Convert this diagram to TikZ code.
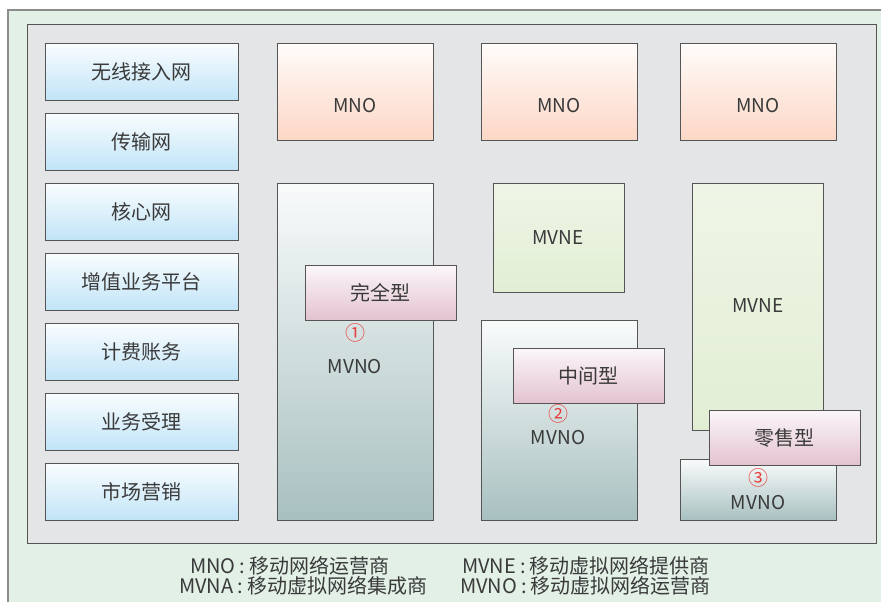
\documentclass[tikz,border=0pt]{standalone}
\usepackage{fontspec}
\setmainfont{Noto Sans CJK SC}
\definecolor{bggreen}{HTML}{E2F0E6}
\definecolor{bggray}{HTML}{E4E5E7}
\definecolor{edge}{HTML}{555555}
\definecolor{txt}{HTML}{3A3A3A}
\definecolor{numred}{HTML}{E84040}
\tikzset{
  x=1pt,y=-1pt,
  boxbase/.style={draw=edge,line width=0.9pt,anchor=north west,inner sep=0pt,text=txt},
  leftbox/.style={boxbase,top color={rgb,255:red,250;green,253;blue,255},bottom color={rgb,255:red,192;green,228;blue,247},font=\fontsize{20}{20}\selectfont},
  mnobox/.style={boxbase,top color={rgb,255:red,255;green,252;blue,250},bottom color={rgb,255:red,252;green,215;blue,198}},
  mvnebox/.style={boxbase,top color={rgb,255:red,238;green,245;blue,230},bottom color={rgb,255:red,226;green,238;blue,212}},
  mvnobox/.style={boxbase,top color={rgb,255:red,249;green,251;blue,251},bottom color={rgb,255:red,168;green,192;blue,192}},
  typebox/.style={boxbase,top color={rgb,255:red,251;green,246;blue,249},bottom color={rgb,255:red,227;green,194;blue,208},font=\fontsize{20}{20}\selectfont},
  lbl/.style={text=txt,font=\fontsize{19}{19}\selectfont,inner sep=0pt},
  num/.style={text=numred,font=\fontsize{20}{20}\selectfont,inner sep=0pt},
  legend/.style={text=txt,font=\fontsize{20}{20}\selectfont,inner sep=0pt,anchor=west}
}
\newcommand{\rbox}[7]{%
  \node[#6,minimum width={#4-#2},minimum height={#5-#3}] (#1) at (#2,#3) {#7};}
\newcommand{\lcolon}{\hspace{4pt}:\hspace{4pt}}
\begin{document}
\begin{tikzpicture}
\useasboundingbox (0,0) rectangle (881,602);
\fill[bggreen] (8,10) rectangle (895,615);
\draw[color={rgb,255:red,140;green,140;blue,140},line width=1.2pt] (8,615) -- (8,10) -- (895,10);
\draw[edge,fill=bggray,line width=1pt] (27,25) rectangle (876,543);
% left column
\rbox{l1}{45}{43}{238}{100}{leftbox}{无线接入网}
\rbox{l2}{45}{113}{238}{170}{leftbox}{传输网}
\rbox{l3}{45}{183}{238}{240}{leftbox}{核心网}
\rbox{l4}{45}{253}{238}{310}{leftbox}{增值业务平台}
\rbox{l5}{45}{323}{238}{380}{leftbox}{计费账务}
\rbox{l6}{45}{393}{238}{450}{leftbox}{业务受理}
\rbox{l7}{45}{463}{238}{520}{leftbox}{市场营销}
% MNO
\rbox{m1}{277}{43}{433}{140}{mnobox}{}
\rbox{m2}{481}{43}{637}{140}{mnobox}{}
\rbox{m3}{680}{43}{836}{140}{mnobox}{}
\node[lbl] (tm1) at (355,106) {MNO};
\node[lbl] (tm2) at (559,106) {MNO};
\node[lbl] (tm3) at (758,106) {MNO};
% column 1
\rbox{v1}{277}{183}{433}{520}{mvnobox}{}
\rbox{t1}{305}{265}{456}{320}{typebox}{完全型}
\node[num] (n1) at (355,333) {①};
\node[lbl] (tv1) at (355,367) {MVNO};
% column 2
\rbox{e2}{493}{183}{624}{292}{mvnebox}{}
\node[lbl] (te2) at (558,238) {MVNE};
\rbox{v2}{481}{320}{637}{520}{mvnobox}{}
\rbox{t2}{513}{348}{664}{403}{typebox}{中间型}
\node[num] (n2) at (558,414) {②};
\node[lbl] (tv2) at (558,438) {MVNO};
% column 3
\rbox{e3}{692}{183}{823}{430}{mvnebox}{}
\node[lbl] (te3) at (758,306) {MVNE};
\rbox{v3}{680}{459}{836}{520}{mvnobox}{}
\rbox{t3}{709}{410}{860}{465}{typebox}{零售型}
\node[num] (n3) at (758,478) {③};
\node[lbl] (tv3) at (758,503) {MVNO};
% legend
\node[legend] (g1) at (190,566) {MNO\lcolon 移动网络运营商};
\node[legend] (g2) at (462,566) {MVNE\lcolon 移动虚拟网络提供商};
\node[legend] (g3) at (179,586) {MVNA\lcolon 移动虚拟网络集成商};
\node[legend] (g4) at (460,586) {MVNO\lcolon 移动虚拟网络运营商};
\end{tikzpicture}
\end{document}
